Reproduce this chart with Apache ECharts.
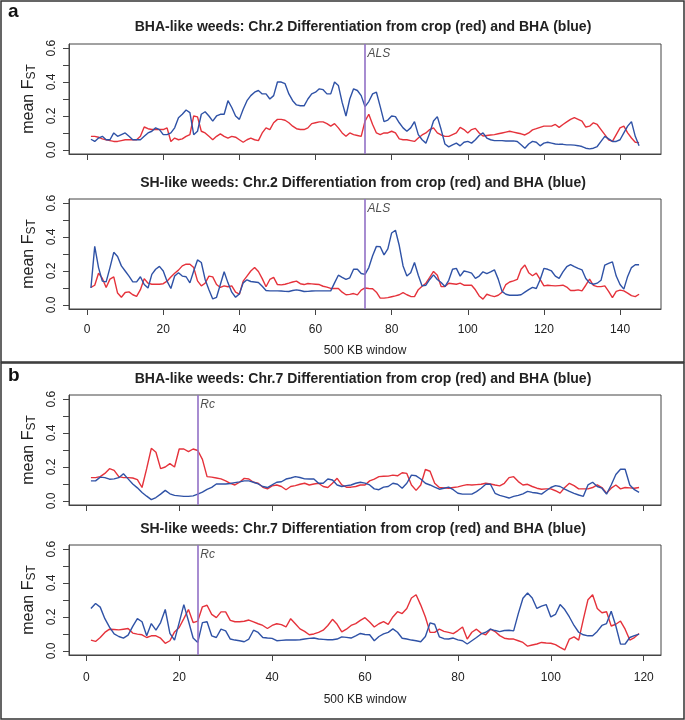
<!DOCTYPE html>
<html><head><meta charset="utf-8">
<script src="https://cdn.jsdelivr.net/npm/echarts@6/dist/echarts.min.js"></script>
<style>html,body{margin:0;padding:0;background:#fff}#c{width:685px;height:720px}</style>
</head><body><div id="c"></div>
<script>
// ---------- data ----------
const panelTitles = [
  'BHA-like weeds: Chr.2 Differentiation from crop (red) and BHA (blue)',
  'SH-like weeds: Chr.2 Differentiation from crop (red) and BHA (blue)',
  'BHA-like weeds: Chr.7 Differentiation from crop (red) and BHA (blue)',
  'SH-like weeds: Chr.7 Differentiation from crop (red) and BHA (blue)'
];
const panelLetters = ['a', 'b'];
const chr2Ticks = [0, 20, 40, 60, 80, 100, 120, 140];
const chr7Ticks = [0, 20, 40, 60, 80, 100, 120];
const yTicks = [0, 0.1, 0.2, 0.3, 0.4, 0.5, 0.6];
const yTickLabels = [0, 0.2, 0.4, 0.6];
const xAxisTitle = '500 KB window';
const chr2Gene = { name: 'ALS', window: 73 };
const chr7Gene = { name: 'Rc', window: 24 };

// Chr.2, BHA-like weeds
const chr2BhaBlue = [
  0.063,0.05,0.07,0.08,0.06,0.06,0.10,0.08,0.09,0.10,
  0.08,0.06,0.06,0.06,0.08,0.10,0.11,0.13,0.12,0.09,
  0.09,0.10,0.13,0.19,0.21,0.235,0.22,0.09,0.11,0.21,
  0.225,0.20,0.17,0.20,0.21,0.21,0.29,0.25,0.20,0.18,
  0.24,0.29,0.32,0.34,0.35,0.33,0.33,0.30,0.32,0.40,
  0.40,0.39,0.33,0.29,0.265,0.26,0.26,0.30,0.33,0.34,
  0.36,0.355,0.33,0.33,0.40,0.38,0.28,0.20,0.30,0.36,
  0.35,0.32,0.255,0.285,0.33,0.34,0.255,0.167,0.176,0.20,
  0.196,0.16,0.13,0.11,0.13,0.167,0.09,0.06,0.04,0.10,
  0.17,0.196,0.12,0.035,0.018,0.03,0.04,0.024,0.045,0.05,
  0.04,0.06,0.085,0.10,0.07,0.06,0.055,0.055,0.055,0.053,
  0.053,0.053,0.05,0.03,0.01,0.035,0.05,0.045,0.024,0.04,
  0.045,0.04,0.035,0.033,0.033,0.03,0.03,0.028,0.025,0.02,
  0.01,0.006,0.01,0.02,0.05,0.08,0.065,0.05,0.05,0.06,
  0.10,0.14,0.167,0.08,0.024
];
const chr2BhaRed = [
  0.08,0.08,0.075,0.065,0.06,0.055,0.05,0.05,0.055,0.06,
  0.06,0.06,0.06,0.08,0.135,0.125,0.12,0.12,0.12,0.12,
  0.13,0.05,0.07,0.06,0.065,0.08,0.09,0.20,0.195,0.11,
  0.10,0.08,0.06,0.08,0.095,0.08,0.07,0.08,0.075,0.06,
  0.045,0.06,0.07,0.06,0.055,0.10,0.13,0.12,0.16,0.18,
  0.18,0.175,0.16,0.14,0.125,0.12,0.12,0.13,0.155,0.16,
  0.165,0.165,0.155,0.14,0.155,0.13,0.10,0.08,0.10,0.09,
  0.085,0.08,0.17,0.21,0.15,0.10,0.09,0.10,0.10,0.11,
  0.10,0.065,0.06,0.06,0.055,0.05,0.07,0.088,0.10,0.12,
  0.13,0.10,0.088,0.08,0.08,0.09,0.10,0.133,0.12,0.10,
  0.12,0.127,0.10,0.082,0.085,0.088,0.09,0.095,0.10,0.105,
  0.11,0.105,0.10,0.095,0.088,0.10,0.118,0.125,0.133,0.14,
  0.14,0.14,0.15,0.133,0.15,0.165,0.18,0.19,0.18,0.17,
  0.135,0.14,0.16,0.15,0.12,0.09,0.06,0.05,0.09,0.13,
  0.14,0.10,0.07,0.045,0.043
];
// Chr.2, SH-like weeds
const chr2ShBlue = [
  0.10,0.345,0.22,0.14,0.136,0.22,0.31,0.285,0.23,0.20,
  0.17,0.136,0.136,0.166,0.12,0.10,0.18,0.21,0.227,0.20,
  0.14,0.097,0.17,0.19,0.17,0.166,0.13,0.20,0.265,0.25,
  0.15,0.09,0.035,0.045,0.12,0.195,0.13,0.075,0.045,0.065,
  0.13,0.148,0.138,0.135,0.132,0.11,0.085,0.083,0.083,0.083,
  0.082,0.08,0.079,0.085,0.089,0.085,0.079,0.08,0.082,0.083,
  0.083,0.083,0.083,0.083,0.13,0.175,0.162,0.15,0.16,0.21,
  0.21,0.185,0.18,0.22,0.29,0.345,0.343,0.295,0.33,0.424,
  0.44,0.35,0.23,0.17,0.19,0.25,0.175,0.112,0.116,0.15,
  0.177,0.15,0.132,0.108,0.145,0.21,0.215,0.17,0.2,0.195,
  0.187,0.156,0.17,0.195,0.185,0.195,0.207,0.152,0.08,0.063,
  0.057,0.057,0.057,0.06,0.075,0.09,0.103,0.097,0.148,0.215,
  0.21,0.2,0.17,0.156,0.195,0.225,0.237,0.225,0.215,0.207,
  0.156,0.13,0.122,0.128,0.145,0.235,0.245,0.254,0.17,0.12,
  0.093,0.168,0.22,0.237,0.237
];
const chr2ShRed = [
  0.103,0.116,0.187,0.156,0.103,0.152,0.165,0.07,0.045,0.073,
  0.077,0.06,0.05,0.09,0.155,0.128,0.122,0.122,0.122,0.125,
  0.14,0.165,0.187,0.205,0.23,0.24,0.24,0.22,0.142,0.112,
  0.128,0.17,0.165,0.12,0.103,0.112,0.107,0.112,0.075,0.063,
  0.14,0.17,0.2,0.22,0.197,0.155,0.107,0.15,0.162,0.12,
  0.118,0.122,0.128,0.135,0.14,0.125,0.12,0.126,0.124,0.122,
  0.12,0.11,0.105,0.097,0.097,0.097,0.075,0.06,0.062,0.067,
  0.059,0.087,0.10,0.097,0.095,0.075,0.04,0.04,0.043,0.048,
  0.053,0.06,0.073,0.06,0.05,0.049,0.09,0.11,0.128,0.162,
  0.197,0.175,0.108,0.108,0.128,0.125,0.122,0.128,0.116,0.116,
  0.116,0.089,0.053,0.034,0.063,0.055,0.049,0.057,0.075,0.12,
  0.135,0.142,0.15,0.21,0.235,0.19,0.172,0.187,0.15,0.112,
  0.116,0.114,0.112,0.114,0.116,0.105,0.085,0.085,0.089,0.083,
  0.116,0.152,0.115,0.108,0.108,0.112,0.08,0.043,0.08,0.087,
  0.083,0.07,0.055,0.049,0.063
];
// Chr.7, BHA-like weeds
const chr7BhaBlue = [
  0.118,0.118,0.14,0.137,0.128,0.13,0.137,0.16,0.13,0.10,
  0.077,0.05,0.028,0.008,0.02,0.04,0.062,0.042,0.033,0.03,
  0.027,0.027,0.03,0.04,0.052,0.068,0.08,0.10,0.10,0.10,
  0.103,0.108,0.112,0.118,0.118,0.11,0.10,0.085,0.079,0.094,
  0.11,0.113,0.129,0.135,0.143,0.138,0.13,0.129,0.129,0.104,
  0.104,0.129,0.123,0.094,0.085,0.09,0.094,0.104,0.11,0.105,
  0.094,0.071,0.066,0.081,0.085,0.104,0.098,0.075,0.104,0.152,
  0.148,0.129,0.104,0.094,0.081,0.069,0.075,0.081,0.066,0.045,
  0.04,0.04,0.04,0.055,0.075,0.098,0.098,0.045,0.033,0.025,
  0.017,0.027,0.033,0.042,0.056,0.05,0.047,0.04,0.06,0.079,
  0.09,0.085,0.07,0.056,0.045,0.035,0.027,0.094,0.11,0.085,
  0.075,0.04,0.094,0.156,0.187,0.187,0.094,0.066,0.05
];
const chr7BhaRed = [
  0.137,0.137,0.143,0.162,0.19,0.18,0.143,0.137,0.137,0.135,
  0.125,0.079,0.19,0.31,0.287,0.19,0.2,0.22,0.2,0.306,
  0.306,0.29,0.306,0.297,0.245,0.143,0.14,0.135,0.13,0.118,
  0.104,0.094,0.11,0.133,0.129,0.11,0.104,0.08,0.071,0.089,
  0.094,0.085,0.066,0.085,0.09,0.098,0.104,0.094,0.1,0.104,
  0.085,0.079,0.104,0.133,0.094,0.081,0.081,0.085,0.094,0.094,
  0.118,0.129,0.143,0.145,0.146,0.152,0.148,0.166,0.162,0.094,
  0.062,0.094,0.185,0.175,0.104,0.079,0.077,0.075,0.079,0.083,
  0.09,0.096,0.094,0.096,0.098,0.104,0.1,0.094,0.089,0.104,
  0.137,0.143,0.114,0.094,0.098,0.085,0.075,0.069,0.071,0.071,
  0.06,0.046,0.079,0.104,0.09,0.071,0.071,0.071,0.079,0.094,
  0.079,0.046,0.075,0.094,0.071,0.079,0.077,0.075,0.079
];
// Chr.7, SH-like weeds
const chr7ShBlue = [
  0.25,0.279,0.258,0.19,0.14,0.10,0.085,0.075,0.093,0.145,
  0.19,0.172,0.089,0.161,0.122,0.167,0.244,0.103,0.064,0.167,
  0.273,0.176,0.076,0.05,0.167,0.172,0.089,0.079,0.128,0.118,
  0.07,0.064,0.06,0.054,0.07,0.122,0.109,0.079,0.076,0.074,
  0.06,0.062,0.064,0.064,0.064,0.066,0.07,0.074,0.076,0.07,
  0.068,0.066,0.066,0.07,0.083,0.08,0.076,0.089,0.103,0.097,
  0.095,0.06,0.085,0.1,0.109,0.13,0.11,0.075,0.07,0.064,
  0.06,0.054,0.085,0.165,0.157,0.083,0.072,0.07,0.076,0.065,
  0.06,0.041,0.06,0.079,0.1,0.11,0.128,0.12,0.114,0.12,
  0.122,0.118,0.22,0.31,0.341,0.312,0.25,0.264,0.273,0.2,
  0.215,0.273,0.244,0.2,0.15,0.11,0.095,0.089,0.089,0.115,
  0.15,0.161,0.234,0.147,0.04,0.041,0.079,0.09,0.099
];
const chr7ShRed = [
  0.064,0.056,0.079,0.109,0.128,0.126,0.124,0.128,0.132,0.105,
  0.099,0.095,0.079,0.089,0.089,0.075,0.045,0.06,0.112,0.138,
  0.19,0.244,0.167,0.176,0.26,0.269,0.215,0.196,0.23,0.23,
  0.18,0.172,0.172,0.175,0.182,0.171,0.16,0.15,0.132,0.15,
  0.16,0.155,0.141,0.19,0.16,0.13,0.115,0.095,0.1,0.109,
  0.122,0.15,0.186,0.157,0.112,0.128,0.15,0.161,0.18,0.196,
  0.17,0.141,0.16,0.172,0.157,0.2,0.231,0.22,0.25,0.312,
  0.331,0.27,0.2,0.109,0.109,0.128,0.115,0.109,0.102,0.12,
  0.141,0.07,0.11,0.128,0.105,0.095,0.128,0.114,0.09,0.075,
  0.07,0.07,0.06,0.05,0.028,0.035,0.041,0.05,0.047,0.045,
  0.037,0.021,0.006,0.07,0.083,0.064,0.186,0.302,0.331,0.25,
  0.225,0.231,0.147,0.157,0.176,0.128,0.064,0.079,0.103
];

// ---------- chart ----------
const FONT = '"Liberation Sans", Arial, Helvetica, sans-serif';
const RED = '#e5323b', BLUE = '#2f52a6', PURPLE = '#9270c6', INK = '#222', AXIS = '#444';

const panels = [
  { title: panelTitles[0], red: chr2BhaRed, blue: chr2BhaBlue, ticks: chr2Ticks, gene: chr2Gene, top: 44,  titleTop: 20,  showX: false, xGap: 0,  xMargin: 14 },
  { title: panelTitles[1], red: chr2ShRed,  blue: chr2ShBlue,  ticks: chr2Ticks, gene: chr2Gene, top: 199, titleTop: 176, showX: true,  xGap: 36, xMargin: 15 },
  { title: panelTitles[2], red: chr7BhaRed, blue: chr7BhaBlue, ticks: chr7Ticks, gene: chr7Gene, top: 395, titleTop: 372, showX: false, xGap: 0,  xMargin: 14 },
  { title: panelTitles[3], red: chr7ShRed,  blue: chr7ShBlue,  ticks: chr7Ticks, gene: chr7Gene, top: 545, titleTop: 522, showX: true,  xGap: 39, xMargin: 17 }
];
const PLOT_LEFT = 69, PLOT_W = 592, PLOT_H = 110;

function xRange(n) { const pad = (n - 1) * 0.04; return [1 - pad, n + pad]; }
const toPairs = arr => arr.map((v, i) => [i + 1, v]);

const option = {
  animation: false,
  backgroundColor: '#fff',
  textStyle: { fontFamily: FONT },
  title: panels.map(p => ({
    text: p.title, left: PLOT_LEFT + PLOT_W / 2 - 2, top: p.titleTop, textAlign: 'center', padding: 0,
    textStyle: { fontSize: 14, fontWeight: 'bold', color: INK, fontFamily: FONT }
  })),
  grid: panels.map(p => ({
    left: PLOT_LEFT, top: p.top, width: PLOT_W, height: PLOT_H,
    show: true, borderColor: AXIS, borderWidth: 1, backgroundColor: '#fff', containLabel: false
  })),
  xAxis: panels.map((p, i) => {
    const r = xRange(p.red.length);
    return {
      gridIndex: i, type: 'value', min: r[0], max: r[1],
      axisLine: { show: true, onZero: false, lineStyle: { color: AXIS, width: 1 } },
      axisTick: { show: true, customValues: p.ticks, length: 6, inside: false, lineStyle: { color: AXIS } },
      axisLabel: { show: p.showX, customValues: p.ticks, margin: p.xMargin, fontSize: 12, color: INK, fontFamily: FONT },
      splitLine: { show: false },
      name: p.showX ? xAxisTitle : '', nameLocation: 'middle', nameGap: p.xGap,
      nameTextStyle: { fontSize: 12, color: INK, fontFamily: FONT }
    };
  }),
  yAxis: panels.map((p, i) => ({
    gridIndex: i, type: 'value', min: -0.024, max: 0.624,
    axisLine: { show: true, onZero: false, lineStyle: { color: AXIS, width: 1 } },
    axisTick: { show: true, customValues: yTicks, length: 6, inside: false, lineStyle: { color: AXIS } },
    axisLabel: { customValues: yTickLabels, rotate: 90, margin: 11, fontSize: 12, color: INK, fontFamily: FONT,
      formatter: v => Number(v).toFixed(1) },
    splitLine: { show: false },
    name: '{a|mean F}{b|ST}', nameLocation: 'middle', nameGap: 31, nameRotate: 90,
    nameTextStyle: { fontFamily: FONT, rich: {
      a: { fontSize: 16, color: INK, fontFamily: FONT },
      b: { fontSize: 12, color: INK, fontFamily: FONT, padding: [7, 0, 0, 0] }
    } }
  })),
  series: panels.flatMap((p, i) => [
    { type: 'line', xAxisIndex: i, yAxisIndex: i, data: toPairs(p.red), showSymbol: false, symbol: 'none',
      lineStyle: { color: RED, width: 1.4 }, z: 2 },
    { type: 'line', xAxisIndex: i, yAxisIndex: i, data: toPairs(p.blue), showSymbol: false, symbol: 'none',
      lineStyle: { color: BLUE, width: 1.4 }, z: 3 },
    { type: 'scatter', xAxisIndex: i, yAxisIndex: i, data: [[p.gene.window, 0.565]], symbolSize: 1,
      itemStyle: { color: 'rgba(0,0,0,0)' }, silent: true, z: 4,
      label: { show: true, position: 'right', distance: 2, formatter: p.gene.name, fontStyle: 'italic',
        fontSize: 12, color: INK, fontFamily: FONT },
      markLine: { silent: true, symbol: ['none', 'none'], label: { show: false },
        lineStyle: { color: PURPLE, width: 1.6, type: 'solid' }, data: [{ xAxis: p.gene.window }] } }
  ]),
  graphic: [
    { type: 'rect', shape: { x: 1, y: 1, width: 683, height: 361 }, style: { fill: 'none', stroke: '#333', lineWidth: 1.5 } },
    { type: 'rect', shape: { x: 1, y: 363, width: 683, height: 356 }, style: { fill: 'none', stroke: '#333', lineWidth: 1.5 } },
    { type: 'text', left: 8, top: 2, style: { text: panelLetters[0], font: 'bold 19px ' + FONT, fill: '#111' } },
    { type: 'text', left: 8, top: 366, style: { text: panelLetters[1], font: 'bold 19px ' + FONT, fill: '#111' } }
  ]
};

const chart = echarts.init(document.getElementById('c'), null, { renderer: 'canvas' });
chart.setOption(option);
</script>
</body></html>
